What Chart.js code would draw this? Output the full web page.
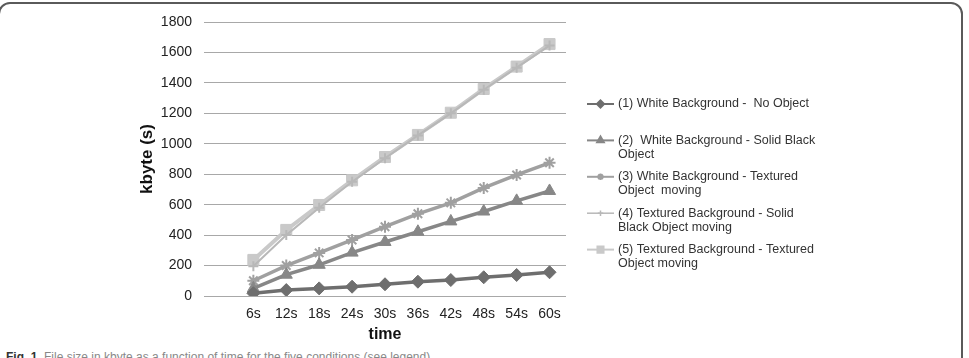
<!DOCTYPE html>
<html>
<head>
<meta charset="utf-8">
<script src="https://cdn.jsdelivr.net/npm/chart.js@4"></script>
<style>
  body { margin: 0; background: #fff; overflow: hidden; }
  #frame { position: absolute; left: -2px; top: 2px; width: 961px; height: 420px;
           border: 2px solid #5a5a5a; border-radius: 12px; }
  #cap { position: absolute; left: 6px; top: 350px; font: 12px "Liberation Sans", Arial, sans-serif;
         color: #888; white-space: nowrap; }
  #cap b { color: #333; }
  canvas { position: absolute; left: 0; top: 0; }
</style>
</head>
<body>
<div id="frame"></div>
<div id="cap"><b>Fig. 1</b>&nbsp; File size in kbyte as a function of time for the five conditions (see legend)</div>
<canvas id="grafico" width="969" height="358"></canvas>
<script>
// tempos (eixo x)
var tempos = ['6s', '12s', '18s', '24s', '30s', '36s', '42s', '48s', '54s', '60s'];

// kbyte por condição
var semObjeto      = [18, 39, 50, 61, 77, 94, 105, 123, 138, 156];
var objetoPreto    = [50, 140, 205, 285, 355, 422, 490, 555, 625, 690];
var objetoTextura  = [100, 200, 283, 368, 455, 540, 612, 710, 795, 875];
var fundoTexPreto  = [195, 400, 580, 750, 905, 1055, 1200, 1355, 1500, 1645];
var fundoTexTextura = [237, 434, 598, 760, 913, 1058, 1204, 1360, 1507, 1655];

var legendas = [
    ['(1) White Background -  No Object'],
    ['(2)  White Background - Solid Black', 'Object'],
    ['(3) White Background - Textured', 'Object  moving'],
    ['(4) Textured Background - Solid', 'Black Object moving'],
    ['(5) Textured Background - Textured', 'Object moving']
];

var fonte = '"Liberation Sans", Arial, sans-serif';

function serie(i, dados, cor, estilo, raio, larg) {
    return {
        label: legendas[i].join(' '),
        data: [null].concat(dados),
        borderColor: cor,
        backgroundColor: cor,
        borderWidth: larg,
        pointStyle: estilo,
        pointRadius: raio,
        pointBorderWidth: (estilo == 'star' || estilo == 'cross') ? 2 : 1,
        pointBorderColor: cor,
        pointBackgroundColor: cor,
        legendaRaio: raio * 0.55,
        tension: 0
    };
}

// legenda desenhada à mão (texto em duas linhas)
var legendaPlugin = {
    id: 'legendaLateral',
    afterDraw: function (chart) {
        var ctx = chart.ctx;
        ctx.save();
        ctx.font = '12.5px ' + fonte;
        ctx.textBaseline = 'middle';
        chart.data.datasets.forEach(function (ds, i) {
            var y = 104 + i * 36.4;
            ctx.strokeStyle = ds.borderColor;
            ctx.lineWidth = i == 3 ? 1.5 : 2;
            ctx.beginPath();
            ctx.moveTo(587, y);
            ctx.lineTo(614, y);
            ctx.stroke();
            ctx.fillStyle = ds.borderColor;
            Chart.helpers.drawPoint(ctx, {
                pointStyle: ds.pointStyle,
                radius: ds.legendaRaio,
                borderWidth: 1
            }, 600.5, y);
            ctx.fillStyle = '#333';
            legendas[i].forEach(function (linha, j) {
                ctx.fillText(linha, 618, y + j * 14);
            });
        });
        ctx.restore();
    }
};

new Chart(document.getElementById('grafico'), {
    type: 'line',
    data: {
        labels: [''].concat(tempos),
        datasets: [
            serie(0, semObjeto, '#6e6e6e', 'rectRot', 6.5, 3.5),
            serie(1, objetoPreto, '#878787', 'triangle', 7, 3.5),
            serie(2, objetoTextura, '#a0a0a0', 'star', 6, 3.5),
            serie(3, fundoTexPreto, '#b8b8b8', 'cross', 5, 2),
            serie(4, fundoTexTextura, '#c9c9c9', 'rect', 7.8, 4)
        ]
    },
    options: {
        responsive: false,
        animation: false,
        spanGaps: false,
        layout: { padding: { left: 137, right: 403, top: 22, bottom: 14 } },
        plugins: {
            legend: { display: false },
            tooltip: { enabled: false }
        },
        scales: {
            x: {
                offset: true,
                grid: { display: false, drawTicks: false },
                border: { display: false },
                ticks: { color: '#222', font: { family: fonte, size: 14 }, padding: 10, maxRotation: 0, autoSkip: false },
                title: { display: true, text: 'time', color: '#111', font: { family: fonte, size: 16, weight: 'bold' }, padding: 0 },
                afterFit: function (s) { s.height = 48; }
            },
            y: {
                min: 0,
                max: 1800,
                grid: { color: '#a8a8a8', lineWidth: 1, drawTicks: false },
                border: { display: false },
                ticks: {
                    stepSize: 200, color: '#222', font: { family: fonte, size: 14 }, padding: 12,
                    callback: function (v) { return String(v); }
                },
                title: { display: true, text: 'kbyte (s)', color: '#111', font: { family: fonte, size: 17, weight: 'bold' }, padding: 0 },
                afterFit: function (s) { s.width = 67; }
            }
        }
    },
    plugins: [legendaPlugin]
});
</script>
</body>
</html>
